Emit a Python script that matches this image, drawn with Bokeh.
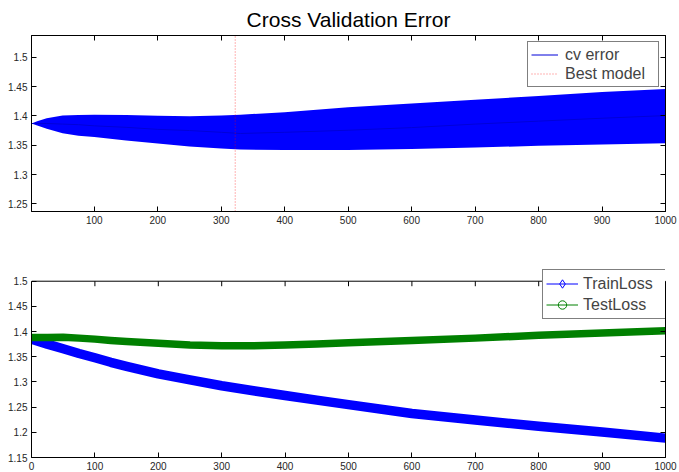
from bokeh.plotting import figure
from bokeh.layouts import column
from bokeh.models import (Range1d, FixedTicker, LinearAxis, Legend, LegendItem,
                          CustomJSTickFormatter, Span)
from bokeh.embed import file_html
from bokeh.resources import INLINE

FONT = "Liberation Sans"
BLUE = "#0000ff"
GREEN = "#008000"
RED = "#ff0000"

# ---------------- data ----------------
cv_x = [1, 10, 25, 50, 75, 100, 150, 200, 250, 300, 330, 400, 500, 600, 700, 800, 900, 1000]
cv_upper = [1.387, 1.391, 1.396, 1.4005, 1.4015, 1.402, 1.4015, 1.400, 1.3993, 1.4005,
            1.402, 1.406, 1.4145, 1.421, 1.4275, 1.434, 1.4405, 1.446]
cv_lower = [1.387, 1.3835, 1.378, 1.3705, 1.366, 1.364, 1.358, 1.353, 1.348, 1.3445,
            1.3425, 1.342, 1.342, 1.3435, 1.346, 1.349, 1.351, 1.3535]
cv_mean = [1.387, 1.387, 1.387, 1.386, 1.385, 1.383, 1.3805, 1.377, 1.375, 1.372,
           1.370, 1.372, 1.3755, 1.380, 1.386, 1.391, 1.396, 1.4005]
best_model = 322

loss_x = [0, 25, 50, 75, 100, 125, 150, 200, 250, 300, 350, 400, 450, 500,
          600, 700, 800, 900, 1000]
train_loss = [1.385, 1.375, 1.366, 1.3565, 1.348, 1.339, 1.331, 1.316, 1.304,
              1.2925, 1.2825, 1.273, 1.264, 1.255, 1.2375, 1.2245, 1.212, 1.2005, 1.1885]
test_loss = [1.388, 1.388, 1.3885, 1.387, 1.385, 1.3825, 1.3805, 1.377, 1.3735,
             1.372, 1.3718, 1.3735, 1.3755, 1.378, 1.3825, 1.387, 1.3925, 1.397, 1.4015]

top_xticks = [100, 200, 300, 400, 500, 600, 700, 800, 900, 1000]
top_yticks = [1.25, 1.3, 1.35, 1.4, 1.45, 1.5]
bot_xticks = [0, 100, 200, 300, 400, 500, 600, 700, 800, 900, 1000]
bot_yticks = [1.15, 1.2, 1.25, 1.3, 1.35, 1.4, 1.45, 1.5]

TOP_X = (1, 1000)
TOP_Y = (1.237, 1.537)
BOT_X = (0, 1000)
BOT_YLIM = (1.15, 1.5)          # axes box limits of the lower panel
BOT_HEADROOM = 0.0292            # extra room above the box so the legend can overhang it

yfmt_code = "return tick.toFixed(2).replace(/0$/, '');"
TICK_LEN = 5


def style_axis(ax, ticks, labels=True, yfmt=False):
    ax.ticker = FixedTicker(ticks=ticks)
    ax.major_tick_in = TICK_LEN
    ax.major_tick_out = 0
    ax.minor_tick_in = 0
    ax.minor_tick_out = 0
    ax.axis_line_color = "black"
    ax.axis_line_width = 1
    ax.major_tick_line_color = "black"
    ax.major_label_text_font = FONT
    if labels:
        ax.major_label_text_color = "#262626"
        ax.major_label_text_font_size = "10px"
        ax.major_label_standoff = 4
    else:
        ax.major_label_text_color = None
        ax.major_label_text_font_size = "1px"
        ax.major_label_standoff = 0
    if yfmt:
        ax.formatter = CustomJSTickFormatter(code=yfmt_code)


def make_fig(height, xr, yr, top, bottom, xt, yt, above=True):
    p = figure(width=679, height=height, x_range=Range1d(*xr), y_range=Range1d(*yr),
               output_backend="svg", toolbar_location=None,
               min_border_left=31, min_border_right=14,
               min_border_top=top, min_border_bottom=bottom)
    p.xgrid.visible = False
    p.ygrid.visible = False
    p.outline_line_color = "black" if above else None
    p.background_fill_color = "white"
    p.border_fill_color = "white"
    style_axis(p.xaxis[0], xt)
    style_axis(p.yaxis[0], yt, yfmt=True)
    ra = LinearAxis()
    style_axis(ra, yt, labels=False)
    p.add_layout(ra, "right")
    if above:
        aa = LinearAxis()
        style_axis(aa, xt, labels=False)
        p.add_layout(aa, "above")
    return p, ra


# ---------------- top panel ----------------
p1, _ = make_fig(240, TOP_X, TOP_Y, 35, 29, top_xticks, top_yticks)
p1.title.text = "Cross Validation Error"
p1.title.align = "center"
p1.title.text_font = FONT
p1.title.text_font_size = "21px"
p1.title.text_font_style = "normal"
p1.title.text_color = "black"

p1.varea(x=cv_x, y1=cv_lower, y2=cv_upper, fill_color=BLUE, fill_alpha=1)
r_cv = p1.line(cv_x, cv_mean, line_color="#0000d8", line_width=1)
r_best = p1.line([best_model, best_model], list(TOP_Y), line_color=RED,
                 line_alpha=0.6, line_width=1, line_dash="1 2")

leg1 = Legend(items=[LegendItem(label="cv error", renderers=[r_cv]),
                     LegendItem(label="Best model", renderers=[r_best])],
              location="top_right", margin=6, padding=3, spacing=0,
              glyph_width=27, glyph_height=19, label_height=19, label_width=90,
              label_standoff=7, label_text_font=FONT, label_text_font_size="16px",
              border_line_color="black", border_line_width=1,
              background_fill_color="white", background_fill_alpha=1)
p1.add_layout(leg1)

# ---------------- bottom panel ----------------
BOT_H, BOT_TOP, BOT_BOTTOM = 232, 26, 15
bot_range = (BOT_YLIM[0], BOT_YLIM[1] + BOT_HEADROOM)
p2, ra2 = make_fig(BOT_H, BOT_X, bot_range, BOT_TOP, BOT_BOTTOM,
                   bot_xticks, bot_yticks, above=False)
p2.yaxis[0].bounds = BOT_YLIM
ra2.bounds = BOT_YLIM

# top edge of the axes box with inward ticks
p2.add_layout(Span(location=BOT_YLIM[1], dimension="width", line_color="black",
                   line_width=1))
frame_px = BOT_H - BOT_TOP - BOT_BOTTOM - 1
tick_dy = TICK_LEN * (bot_range[1] - bot_range[0]) / frame_px
p2.segment(x0=bot_xticks, x1=bot_xticks, y0=[BOT_YLIM[1]] * len(bot_xticks),
           y1=[BOT_YLIM[1] - tick_dy] * len(bot_xticks), line_color="black", line_width=1)

r_tr_l = p2.line(loss_x, train_loss, line_color=BLUE, line_width=1)
r_tr_m = p2.scatter(loss_x, train_loss, marker="diamond", size=7,
                    line_color=BLUE, fill_color=None)
r_te_l = p2.line(loss_x, test_loss, line_color=GREEN, line_width=1)
r_te_m = p2.scatter(loss_x, test_loss, marker="circle", size=4.5,
                    line_color=GREEN, fill_color=None)
p2.line(loss_x, train_loss, line_color=BLUE, line_width=9.5, line_cap="round",
        line_join="round")
p2.line(loss_x, test_loss, line_color=GREEN, line_width=7.5, line_cap="round",
        line_join="round")

leg2 = Legend(items=[LegendItem(label="TrainLoss", renderers=[r_tr_l, r_tr_m]),
                     LegendItem(label="TestLoss", renderers=[r_te_l, r_te_m])],
              location=(511, 138), margin=0, padding=3, spacing=0,
              glyph_width=32, glyph_height=21, label_height=21, label_width=80,
              label_standoff=5, label_text_font=FONT, label_text_font_size="16px",
              border_line_color="black", border_line_width=1,
              background_fill_color="white", background_fill_alpha=1)
p2.add_layout(leg2)

layout = column(p1, p2, spacing=0)
open("out.html", "w").write(file_html(layout, INLINE))
